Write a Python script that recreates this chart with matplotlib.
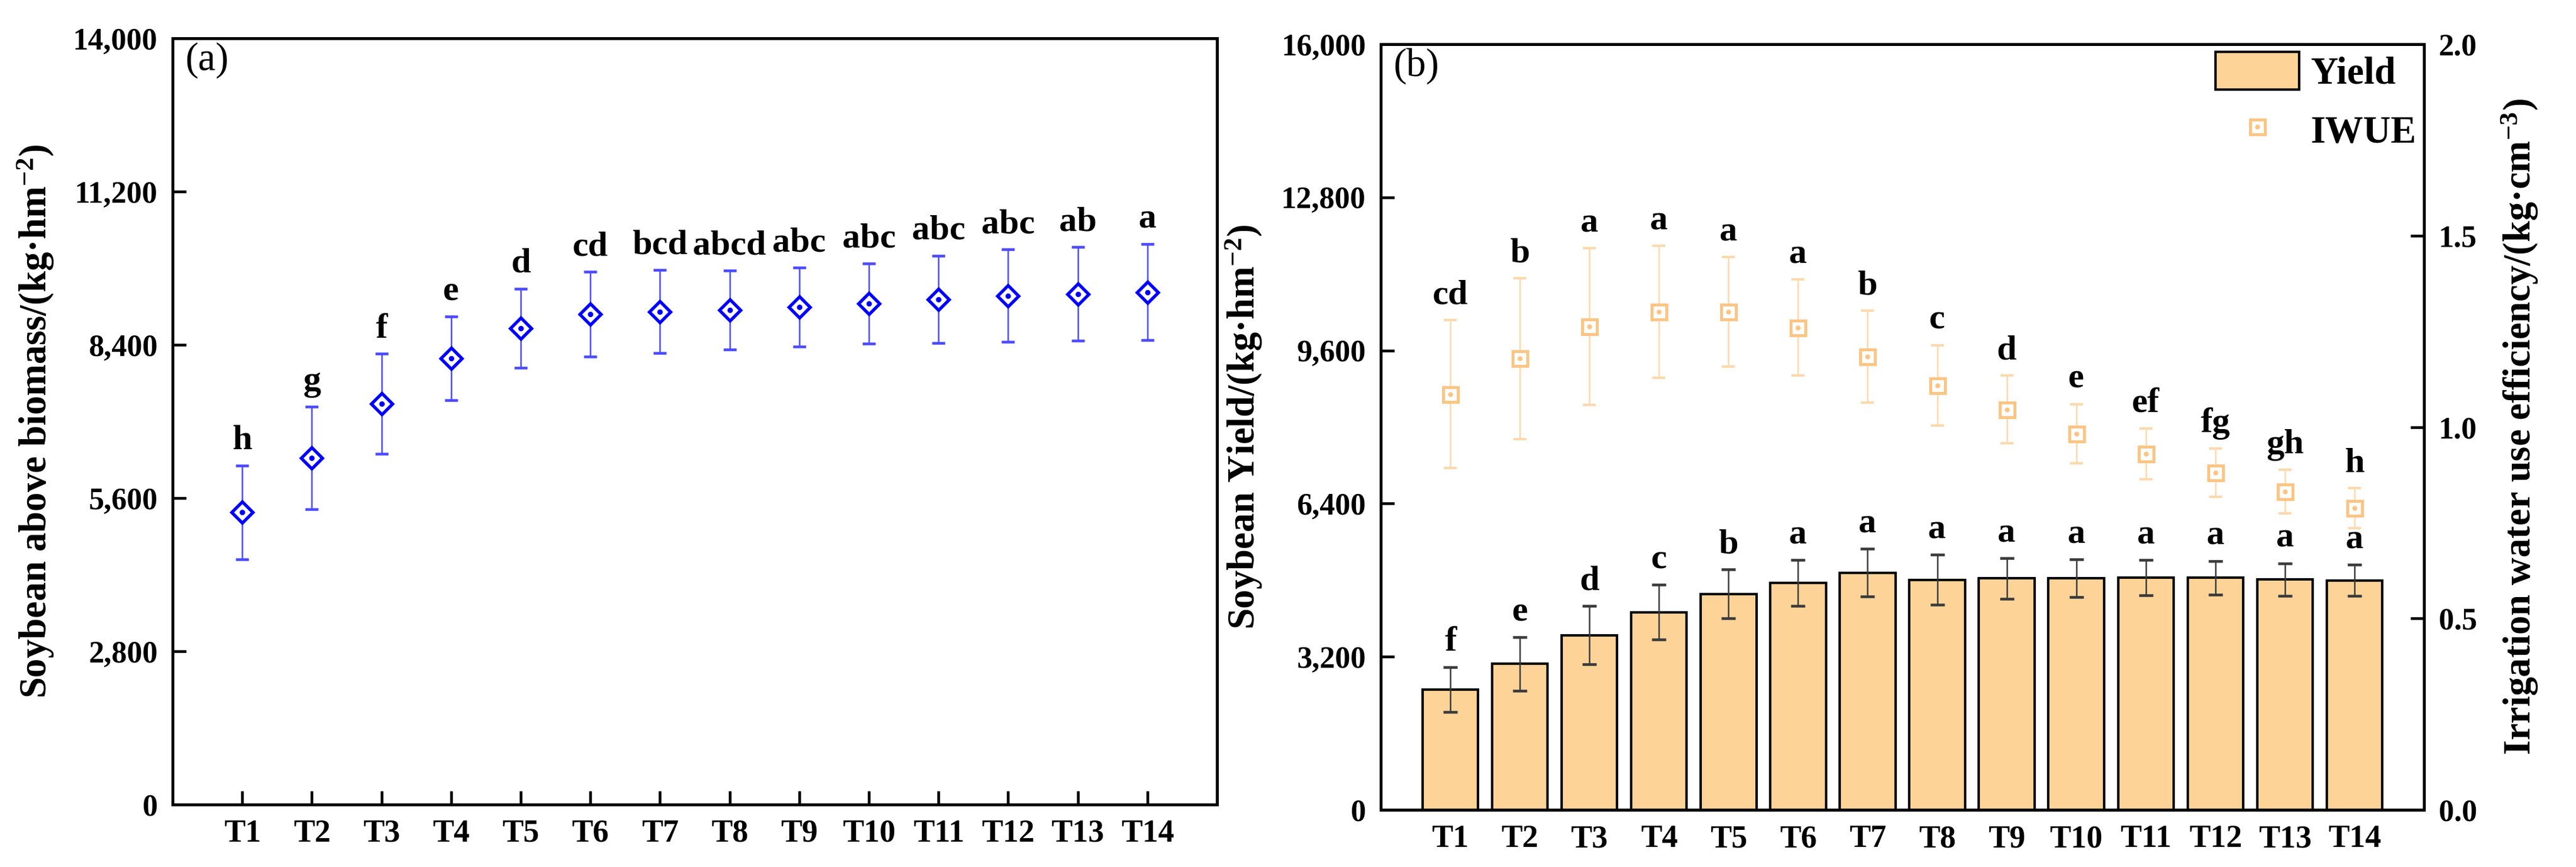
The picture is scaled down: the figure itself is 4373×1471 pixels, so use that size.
import matplotlib
matplotlib.use('Agg')
import matplotlib.pyplot as plt
from matplotlib.ticker import StrMethodFormatter
from matplotlib.lines import Line2D
from matplotlib.patches import Patch
import numpy as np

plt.rcParams['font.family'] = ['Liberation Serif', 'DejaVu Serif']
plt.rcParams['mathtext.fontset'] = 'custom'
plt.rcParams['mathtext.rm'] = 'Liberation Serif:bold'
plt.rcParams['mathtext.it'] = 'Liberation Serif:bold:italic'
plt.rcParams['mathtext.bf'] = 'Liberation Serif:bold'
plt.rcParams['mathtext.default'] = 'rm'

# treatments
treat = ['T1', 'T2', 'T3', 'T4', 'T5', 'T6', 'T7', 'T8', 'T9', 'T10', 'T11', 'T12', 'T13', 'T14']

# (a) above-ground biomass
biomass = [5337, 6332, 7320, 8155, 8703, 8960, 9006, 9036, 9089, 9152, 9233, 9296, 9330, 9363]
biomass_err = [855, 937, 914, 765, 725, 778, 762, 725, 726, 730, 798, 845, 855, 875]
biomass_sig = ['h', 'g', 'f', 'e', 'd', 'cd', 'bcd', 'abcd', 'abc', 'abc', 'abc', 'abc', 'ab', 'a']

# (b) yield and irrigation water use efficiency
yld = [2515, 3053, 3648, 4129, 4514, 4741, 4956, 4809, 4837, 4837, 4854, 4849, 4815, 4797]
yld_err = [467, 561, 611, 571, 515, 481, 498, 520, 425, 394, 365, 354, 339, 322]
yld_sig = ['f', 'e', 'd', 'c', 'b', 'a', 'a', 'a', 'a', 'a', 'a', 'a', 'a', 'a']

iwue = [1.086, 1.179, 1.262, 1.301, 1.301, 1.260, 1.184, 1.109, 1.046, 0.983, 0.930, 0.881, 0.832, 0.788]
iwue_err = [0.193, 0.210, 0.205, 0.173, 0.143, 0.125, 0.120, 0.105, 0.088, 0.077, 0.066, 0.063, 0.057, 0.052]
iwue_sig = ['cd', 'b', 'a', 'a', 'a', 'a', 'b', 'c', 'd', 'e', 'ef', 'fg', 'gh', 'h']

x = np.arange(1, len(treat) + 1)

W, H, DPI = 4373, 1471, 300
fig = plt.figure(figsize=(W / DPI, H / DPI), dpi=DPI)
ax1 = fig.add_axes([293 / W, 1 - 1365 / H, (2066 - 293) / W, (1365 - 65) / H])
ax2 = fig.add_axes([2344 / W, 1 - 1374 / H, (4115 - 2344) / W, (1374 - 75) / H])
ax3 = ax2.twinx()

sig_fs = 14.5
lab_fs = 15.5
xt_fs = 13
yt_fs = 12.5


def style(ax):
    for s in ax.spines.values():
        s.set_linewidth(1.2)
    ax.tick_params(direction='in', length=5.5, width=1.1, pad=6)
    for t in ax.get_xticklabels() + ax.get_yticklabels():
        t.set_fontweight('bold')


# ---- panel (a)
ax1.errorbar(x, biomass, yerr=biomass_err, fmt='none', ecolor='#4a4aff',
             elinewidth=0.6, capsize=2.6, capthick=1.1, zorder=2)
ax1.plot(x, biomass, ls='none', marker='D', ms=6.2, mfc='white', mec='#0000ff',
         mew=1.3, zorder=3)
ax1.plot(x, biomass, ls='none', marker='o', ms=1.2, color='#0000ff', zorder=4)
for xi, m, e, s in zip(x, biomass, biomass_err, biomass_sig):
    ax1.annotate(s, (xi, m + e), xytext=(0, 3.5), textcoords='offset points',
                 ha='center', va='bottom', fontsize=sig_fs, fontweight='bold')
ax1.set_xlim(0, 15)
ax1.set_ylim(0, 14000)
ax1.set_yticks(np.arange(0, 14001, 2800))
ax1.yaxis.set_major_formatter(StrMethodFormatter('{x:,.0f}'))
ax1.set_xticks(x)
ax1.set_xticklabels(treat, fontsize=xt_fs)
ax1.tick_params(axis='y', labelsize=yt_fs)
ax1.set_ylabel('Soybean above biomass/(kg·hm$^{-2}$)', fontsize=lab_fs,
               fontweight='bold', labelpad=7)
ax1.text(0.012, 0.995, '(a)', transform=ax1.transAxes, ha='left', va='top', fontsize=16)
style(ax1)

# ---- panel (b)
bar_c = '#fed398'
ax2.bar(x, yld, width=0.8, color=bar_c, edgecolor='black', linewidth=1.0, zorder=2)
ax2.errorbar(x, yld, yerr=yld_err, fmt='none', ecolor='#3a3a3a',
             elinewidth=0.6, capsize=2.8, capthick=1.1, zorder=3)
for xi, m, e, s in zip(x, yld, yld_err, yld_sig):
    ax2.annotate(s, (xi, m + e), xytext=(0, 3.5), textcoords='offset points',
                 ha='center', va='bottom', fontsize=sig_fs, fontweight='bold')
ax2.set_xlim(0, 15)
ax2.set_ylim(0, 16000)
ax2.set_yticks(np.arange(0, 16001, 3200))
ax2.yaxis.set_major_formatter(StrMethodFormatter('{x:,.0f}'))
ax2.set_xticks(x)
ax2.set_xticklabels(treat, fontsize=xt_fs)
ax2.tick_params(axis='y', labelsize=yt_fs)
ax2.set_ylabel('Soybean Yield/(kg·hm$^{-2}$)', fontsize=lab_fs,
               fontweight='bold', labelpad=7)
ax2.text(0.012, 0.995, '(b)', transform=ax2.transAxes, ha='left', va='top', fontsize=16)
style(ax2)

iw_c = '#fbc584'
ax3.errorbar(x, iwue, yerr=iwue_err, fmt='none', ecolor='#fdd9ad',
             elinewidth=0.6, capsize=2.6, capthick=1.0, zorder=2)
ax3.plot(x, iwue, ls='none', marker='s', ms=6.0, mfc='white', mec=iw_c, mew=1.2, zorder=3)
ax3.plot(x, iwue, ls='none', marker='o', ms=1.0, color=iw_c, zorder=4)
for xi, m, e, s in zip(x, iwue, iwue_err, iwue_sig):
    ax3.annotate(s, (xi, m + e), xytext=(0, 3.5), textcoords='offset points',
                 ha='center', va='bottom', fontsize=sig_fs, fontweight='bold')
ax3.set_ylim(0, 2.0)
ax3.set_yticks([0.0, 0.5, 1.0, 1.5, 2.0])
ax3.yaxis.set_major_formatter(StrMethodFormatter('{x:.1f}'))
ax3.tick_params(axis='y', labelsize=yt_fs)
ax3.set_ylabel('Irrigation water use efficiency/(kg·cm$^{-3}$)', fontsize=lab_fs,
               fontweight='bold', labelpad=9)
style(ax3)

h_bar = Patch(facecolor=bar_c, edgecolor='black', linewidth=1.0)
h_sq = Line2D([], [], ls='none', marker='s', ms=6.0, mfc='white', mec=iw_c, mew=1.2)
h_dot = Line2D([], [], ls='none', marker='o', ms=1.0, color=iw_c)
leg = ax3.legend([h_bar, (h_sq, h_dot)], ['Yield', 'IWUE'], loc='upper right',
                 frameon=False, prop={'family': 'Liberation Serif', 'weight': 'bold', 'size': 15.5},
                 handlelength=2.2, handleheight=1.15, labelspacing=0.5,
                 handletextpad=0.3, borderaxespad=0.1, borderpad=0.1)

fig.savefig('out.png', dpi=DPI)
